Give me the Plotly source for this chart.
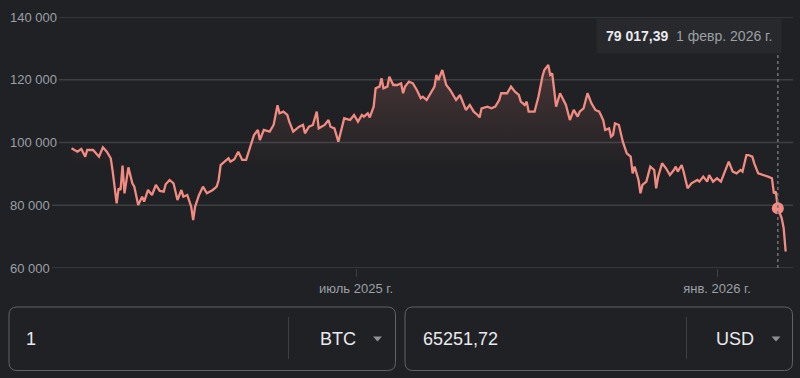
import plotly.graph_objects as go

# ---------------- data ----------------
dates = [
    "2025-02-06", "2025-02-09", "2025-02-11", "2025-02-13", "2025-02-14", "2025-02-17", "2025-02-20", "2025-02-22", "2025-02-24", "2025-02-26", "2025-02-27",
    "2025-03-01", "2025-03-02", "2025-03-03", "2025-03-04", "2025-03-05", "2025-03-07", "2025-03-09", "2025-03-10", "2025-03-12", "2025-03-14", "2025-03-15", "2025-03-17", "2025-03-19", "2025-03-21", "2025-03-23", "2025-03-25", "2025-03-26", "2025-03-28", "2025-03-30",
    "2025-04-01", "2025-04-03", "2025-04-04", "2025-04-06", "2025-04-08", "2025-04-09", "2025-04-10", "2025-04-12", "2025-04-14", "2025-04-15", "2025-04-16", "2025-04-19", "2025-04-21", "2025-04-22", "2025-04-23", "2025-04-25", "2025-04-27", "2025-04-28", "2025-04-30",
    "2025-05-02", "2025-05-04", "2025-05-06", "2025-05-08", "2025-05-10", "2025-05-12", "2025-05-13", "2025-05-15", "2025-05-18", "2025-05-20", "2025-05-22", "2025-05-23", "2025-05-25", "2025-05-27", "2025-05-28", "2025-05-30",
    "2025-06-02", "2025-06-04", "2025-06-05", "2025-06-07", "2025-06-09", "2025-06-11", "2025-06-12", "2025-06-15", "2025-06-17", "2025-06-18", "2025-06-20", "2025-06-22", "2025-06-25", "2025-06-28", "2025-06-30",
    "2025-07-02", "2025-07-04", "2025-07-05", "2025-07-07", "2025-07-08", "2025-07-10", "2025-07-11", "2025-07-13", "2025-07-14", "2025-07-15", "2025-07-17", "2025-07-18", "2025-07-20", "2025-07-22", "2025-07-24", "2025-07-25", "2025-07-26", "2025-07-28", "2025-07-30",
    "2025-08-01", "2025-08-03", "2025-08-04", "2025-08-06", "2025-08-09", "2025-08-10", "2025-08-11", "2025-08-12", "2025-08-14", "2025-08-16", "2025-08-18", "2025-08-20", "2025-08-21", "2025-08-23", "2025-08-25", "2025-08-26", "2025-08-28", "2025-08-30",
    "2025-09-01", "2025-09-02", "2025-09-03", "2025-09-06", "2025-09-08", "2025-09-10", "2025-09-12", "2025-09-13", "2025-09-16", "2025-09-18", "2025-09-20", "2025-09-22", "2025-09-23", "2025-09-25", "2025-09-26", "2025-09-27", "2025-09-30",
    "2025-10-02", "2025-10-04", "2025-10-05", "2025-10-07", "2025-10-08", "2025-10-09", "2025-10-10", "2025-10-11", "2025-10-13", "2025-10-16", "2025-10-18", "2025-10-20", "2025-10-22", "2025-10-23", "2025-10-25", "2025-10-27", "2025-10-29", "2025-10-31",
    "2025-11-02", "2025-11-04", "2025-11-05", "2025-11-07", "2025-11-08", "2025-11-09", "2025-11-10", "2025-11-12", "2025-11-14", "2025-11-16", "2025-11-18", "2025-11-19", "2025-11-20", "2025-11-22", "2025-11-23", "2025-11-24", "2025-11-26", "2025-11-27", "2025-11-28", "2025-11-30",
    "2025-12-01", "2025-12-02", "2025-12-04", "2025-12-06", "2025-12-08", "2025-12-10", "2025-12-11", "2025-12-12", "2025-12-14", "2025-12-15", "2025-12-17", "2025-12-19", "2025-12-22", "2025-12-23", "2025-12-25", "2025-12-27", "2025-12-28", "2025-12-30",
    "2026-01-01", "2026-01-03", "2026-01-05", "2026-01-07", "2026-01-09", "2026-01-11", "2026-01-13", "2026-01-14", "2026-01-16", "2026-01-17", "2026-01-19", "2026-01-20", "2026-01-22", "2026-01-25", "2026-01-27", "2026-01-29", "2026-01-30", "2026-01-31",
    "2026-02-01", "2026-02-03", "2026-02-04", "2026-02-05",
]
prices = [
    98150, 97070, 97930, 95480, 97610, 97610, 95480, 98470, 97070, 94970, 90700,
    80620, 85400, 84870, 92610, 83810, 92080, 86980, 85920, 80080, 82730, 81140, 84870, 83280, 86460, 84550, 84340, 86690, 88050, 87000,
    81680, 84870, 82730, 83280, 79540, 75300, 79540, 83280, 85920, 84870, 83810, 84870, 85920, 88050, 92830, 93890, 94970, 93890, 94650,
    97070, 94440, 94440, 98680, 102400, 103990, 100800, 103990, 103460, 105590, 111900, 109310, 109820, 108770, 106630, 103460,
    105030, 105590, 102930, 105030, 105590, 109820, 104520, 105590, 107170, 105030, 104520, 100260, 107720, 107170, 108770,
    106630, 108770, 108230, 109310, 108000, 111420, 117280, 117800, 120460, 117280, 117800, 120970, 118330, 118330, 118870, 115700, 117800, 119390, 118870,
    116740, 114090, 114600, 113550, 116740, 117800, 121530, 119930, 123110, 118330, 116740, 114600, 113550, 115150, 111960, 110380, 111960, 109820,
    108770, 108000, 110900, 111420, 110900, 111420, 113550, 115700, 115700, 117800, 116200, 115150, 113020, 111960, 113020, 109820, 109820,
    114600, 120970, 123110, 124700, 121530, 122060, 115700, 111420, 115700, 111960, 107170, 110380, 108230, 109800, 110900, 115700, 112490, 110380,
    109820, 107170, 103990, 104520, 101850, 102400, 106120, 105590, 100260, 96530, 95480, 90180, 92300, 88050, 83810, 86460, 87520, 90180, 92300, 91240,
    85400, 89120, 93360, 91780, 89650, 91240, 92300, 90700, 92830, 90700, 85400, 86990, 88050, 87520, 89120, 87520, 89650, 87520,
    88590, 87520, 90700, 93890, 90700, 90180, 91240, 90700, 96000, 96000, 95480, 93360, 90180, 89650, 89120, 88590, 83810, 84340,
    79017.39, 75830, 72640, 65251.72,
]

y_ticks = [60000, 80000, 100000, 120000, 140000]
y_tick_labels = ["60 000", "80 000", "100 000", "120 000", "140 000"]
x_ticks = ["2025-07-01", "2026-01-01"]
x_tick_labels = ["июль 2025 г.", "янв. 2026 г."]

hover_date = "2026-02-01"
hover_value = 79017.39
hover_value_label = "79 017,39"
hover_date_label = "1 февр. 2026 г."

amount_from = "1"
currency_from = "BTC"
amount_to = "65251,72"
currency_to = "USD"

# ---------------- style / layout ----------------
BG = "#202124"
LINE = "#f28b82"
GRID = "#3c4043"
TICK_TXT = "#9aa0a6"
TXT = "#e8eaed"
FONT = "Arial, Liberation Sans, sans-serif"

W, H = 800, 378
ML, MR, MT, MB = 8, 7, 17, 110
PW, PH = W - ML - MR, H - MT - MB
PLOT_BOTTOM = H - MB


def X(p):
    return (p - ML) / PW


def Y(p):
    return (PLOT_BOTTOM - p) / PH


def rounded_box(x0, y0, x1, y1, r):
    return (f"M {X(x0 + r)},{Y(y0)} L {X(x1 - r)},{Y(y0)} Q {X(x1)},{Y(y0)} {X(x1)},{Y(y0 + r)} "
            f"L {X(x1)},{Y(y1 - r)} Q {X(x1)},{Y(y1)} {X(x1 - r)},{Y(y1)} "
            f"L {X(x0 + r)},{Y(y1)} Q {X(x0)},{Y(y1)} {X(x0)},{Y(y1 - r)} "
            f"L {X(x0)},{Y(y0 + r)} Q {X(x0)},{Y(y0)} {X(x0 + r)},{Y(y0)} Z")


def triangle(cx, cy, w, h):
    return (f"M {X(cx - w / 2)},{Y(cy - h / 2)} L {X(cx + w / 2)},{Y(cy - h / 2)} "
            f"L {X(cx)},{Y(cy + h / 2)} Z")


fig = go.Figure()

fig.add_trace(go.Scatter(
    x=dates, y=prices, mode="lines",
    line=dict(color=LINE, width=2.3),
    fill="tozeroy",
    fillgradient=dict(type="vertical",
                      colorscale=[[0, "rgba(242,139,130,0)"], [1, "rgba(242,139,130,0.19)"]],
                      start=92000, stop=125000),
    hoverinfo="skip",
))
fig.add_trace(go.Scatter(
    x=[hover_date], y=[hover_value], mode="markers",
    marker=dict(color=LINE, size=12),
    hoverinfo="skip",
))

shapes = []
# horizontal grid lines starting after each label
for v, lab in zip(y_ticks, y_tick_labels):
    start_px = 10 + 7 * len(lab)
    shapes.append(dict(type="line", xref="paper", yref="y", x0=X(start_px), x1=1, y0=v, y1=v,
                       line=dict(color=GRID, width=1.3), layer="below"))
# hover dotted line
shapes.append(dict(type="line", xref="x", yref="paper", x0=hover_date, x1=hover_date,
                   y0=0, y1=Y(55), line=dict(color="#6f7478", width=1.5, dash="dot")))
# converter boxes
shapes.append(dict(type="path", xref="paper", yref="paper", path=rounded_box(9, 307, 395.5, 370.5, 8),
                   line=dict(color="#5f6368", width=1), fillcolor=BG))
shapes.append(dict(type="path", xref="paper", yref="paper", path=rounded_box(405, 307, 792.5, 370.5, 8),
                   line=dict(color="#5f6368", width=1), fillcolor=BG))
for sx in (288.5, 686.5):
    shapes.append(dict(type="line", xref="paper", yref="paper", x0=X(sx), x1=X(sx), y0=Y(317), y1=Y(359),
                       line=dict(color=GRID, width=1)))
for cx in (377.5, 776):
    shapes.append(dict(type="path", xref="paper", yref="paper", path=triangle(cx, 339, 9, 5),
                       line=dict(width=0), fillcolor="#8e9296"))

annotations = []
for v, lab in zip(y_ticks, y_tick_labels):
    annotations.append(dict(xref="paper", yref="y", x=0, y=v, text=lab, showarrow=False,
                            xanchor="left", yanchor="middle", font=dict(size=13, color=TICK_TXT, family=FONT)))
annotations.append(dict(
    xref="x", yref="paper", x=hover_date, y=Y(36), xanchor="right", yanchor="middle", xshift=4,
    text=f"<b>{hover_value_label}</b>\u00a0\u00a0<span style='color:{TICK_TXT}'>{hover_date_label}</span>",
    showarrow=False, bgcolor="#28292c", borderpad=9,
    font=dict(size=14, color=TXT, family=FONT),
))
annotations += [
    dict(xref="paper", yref="paper", x=X(24), y=Y(339), text=amount_from, xanchor="left", yanchor="middle",
         showarrow=False, font=dict(size=18, color=TXT, family=FONT)),
    dict(xref="paper", yref="paper", x=X(358), y=Y(339), text=currency_from, xanchor="right", yanchor="middle",
         showarrow=False, font=dict(size=18, color=TXT, family=FONT)),
    dict(xref="paper", yref="paper", x=X(421), y=Y(339), text=amount_to, xanchor="left", yanchor="middle",
         showarrow=False, font=dict(size=18, color=TXT, family=FONT)),
    dict(xref="paper", yref="paper", x=X(756), y=Y(339), text=currency_to, xanchor="right", yanchor="middle",
         showarrow=False, font=dict(size=18, color=TXT, family=FONT)),
]

fig.update_layout(
    width=W, height=H,
    margin=dict(l=ML, r=MR, t=MT, b=MB),
    paper_bgcolor=BG, plot_bgcolor=BG,
    showlegend=False, hovermode=False,
    font=dict(family=FONT, color=TICK_TXT, size=13),
    shapes=shapes, annotations=annotations,
    xaxis=dict(
        type="date", range=["2025-01-04 15:00", "2026-02-08 17:45"],
        tickvals=x_ticks, ticktext=x_tick_labels,
        ticks="outside", ticklen=8, tickcolor=GRID, tickwidth=1,
        showgrid=False, zeroline=False, showline=False,
        tickfont=dict(size=13, color=TICK_TXT, family=FONT),
        fixedrange=True,
    ),
    yaxis=dict(
        range=[60000, 140000], showgrid=False, zeroline=False, showline=False,
        showticklabels=False, ticks="", fixedrange=True,
    ),
)

fig.write_html("out.html", config={"displayModeBar": False})
